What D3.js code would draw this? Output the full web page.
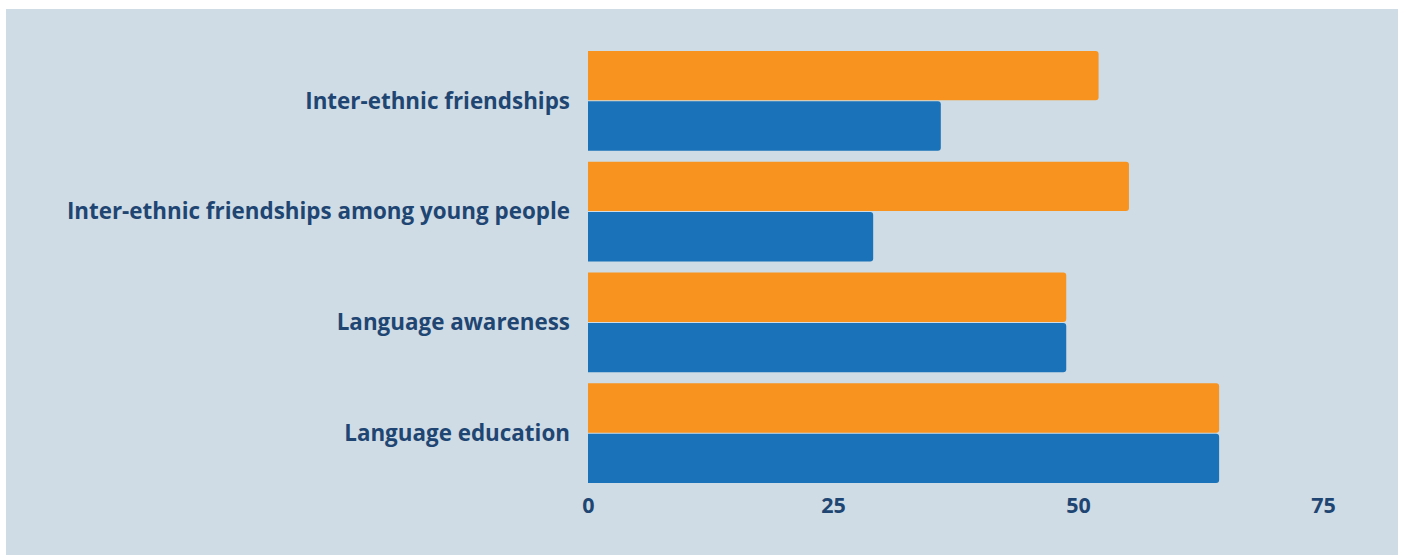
<!DOCTYPE html>
<html>
<head>
<meta charset="utf-8">
<script src="https://cdn.jsdelivr.net/npm/d3@7"></script>
<style>
  body { margin: 0; background: #fff; }
  text { font-family: "Open Sans", sans-serif; font-weight: bold; fill: #1f4673; }
</style>
</head>
<body>
<script>
// data
var categories = ["Inter-ethnic friendships", "Inter-ethnic friendships among young people", "Language awareness", "Language education"];
var seriesOrange = [52.1, 55.2, 48.8, 64.4];
var seriesBlue = [36.0, 29.1, 48.8, 64.4];
var ticks = [0, 25, 50, 75];

var W = 1401, H = 558;
var margin = {top: 51, left: 588, right: 78, bottom: 75};

var svg = d3.select("body").append("svg")
    .attr("width", W).attr("height", H);

// panel background
svg.append("rect")
    .attr("x", 6).attr("y", 9)
    .attr("width", 1392).attr("height", 546)
    .attr("fill", "#cfdce5");

var x = d3.scaleLinear().domain([0, 75]).range([margin.left, W - margin.right]);
var y = d3.scaleBand().domain(categories).range([margin.top, H - margin.bottom]).paddingInner(0.1).paddingOuter(0);

var rows = categories.map(function(c, i){ return {cat: c, o: seriesOrange[i], b: seriesBlue[i]}; });

var barH = (y.bandwidth() - 1) / 2;

// right-rounded bar path
function bar(x0, x1, yy, h){
    var r = 3;
    return "M" + x0 + "," + yy +
        "H" + (x1 - r) + "Q" + x1 + "," + yy + " " + x1 + "," + (yy + r) +
        "V" + (yy + h - r) + "Q" + x1 + "," + (yy + h) + " " + (x1 - r) + "," + (yy + h) +
        "H" + x0 + "Z";
}

var g = svg.append("g");
g.selectAll(".orange").data(rows).enter().append("path")
    .attr("class", "orange")
    .attr("d", function(d){ return bar(x(0), x(d.o), y(d.cat), barH); })
    .attr("fill", "#f7931e");
g.selectAll(".blue").data(rows).enter().append("path")
    .attr("class", "blue")
    .attr("d", function(d){ return bar(x(0), x(d.b), y(d.cat) + barH + 1, barH); })
    .attr("fill", "#1a73b8");

// category labels
svg.selectAll(".cat").data(categories).enter().append("text")
    .attr("class", "cat")
    .attr("x", margin.left - 18)
    .attr("y", function(d){ return y(d) + y.bandwidth() / 2; })
    .attr("dy", "0.35em")
    .attr("text-anchor", "end")
    .style("font-size", "22.4px")
    .text(function(d){ return d; });

// x axis labels
var axis = d3.axisBottom(x).tickValues(ticks).tickSize(0).tickPadding(0);
var ax = svg.append("g").attr("transform", "translate(0," + 498 + ")").call(axis);
ax.select(".domain").remove();
ax.selectAll("text")
    .style("font-size", "21.5px")
    .style("font-family", "'Open Sans', sans-serif")
    .attr("fill", "#1f4673")
    .attr("dy", "0.71em")
    .attr("y", 0);
</script>
</body>
</html>
